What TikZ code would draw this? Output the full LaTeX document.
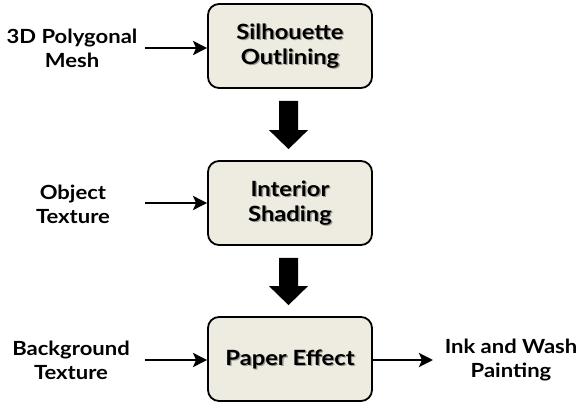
\documentclass[tikz,border=0pt]{standalone}
\usepackage{fontspec}
\setmainfont{Lato}[FakeStretch=1.13]
\usetikzlibrary{calc,arrows.meta}
\definecolor{boxfill}{HTML}{EEEBE1}
\tikzset{
  stage/.style={draw=black, line width=1.8pt, fill=boxfill, rounded corners=11pt,
    minimum width=164pt, minimum height=84pt, inner sep=0pt},
  stagetext/.style={font=\bfseries\fontsize{21}{24.5}\selectfont, align=center, inner sep=0pt},
  shadowtext/.style={stagetext, text=black, opacity=0.35},
  sidelabel/.style={font=\bfseries\fontsize{19.5}{24}\selectfont, align=center, inner sep=0pt},
  flow/.style={line width=2.6pt, -{Stealth[length=14pt,width=14pt,inset=3pt]}},
  blockarrow/.style={fill=black, draw=none}
}
\newcommand{\stagelabel}[3]{%
  \node[shadowtext] at ($(#1)+(1.3,1.3)$) {#2};
  \node[stagetext] (#3) at (#1) {#2};}
\begin{document}
\begin{tikzpicture}[x=1pt,y=-1pt]
\useasboundingbox (0,0) rectangle (578,406);
% boxes
\node[stage] (b1) at (290,46) {};
\node[stage] (b2) at (290,203) {};
\node[stage] (b3) at (290,359) {};
\stagelabel{b1}{Silhouette\\Outlining}{t1}
\stagelabel{b2}{Interior\\Shading}{t2}
\stagelabel{b3}{Paper Effect}{t3}
% side labels
\node[sidelabel] (l1) at (72,48) {3D Polygonal\\Mesh};
\node[sidelabel] (l2) at (73,204) {Object\\Texture};
\node[sidelabel] (l3) at (71,360) {Background\\Texture};
\node[sidelabel] (l4) at (511,360) {Ink and Wash\\Painting};
% side arrows
\coordinate (s1) at (145,48);
\coordinate (s2) at (145,203);
\coordinate (s3) at (145,360);
\draw[flow] (s1) -- (s1 -| b1.west);
\draw[flow] (s2) -- (s2 -| b2.west);
\draw[flow] (s3) -- (s3 -| b3.west);
\coordinate (e3) at (433,360);
\draw[flow] (b3.east |- e3) -- (e3);
% block arrows
\foreach \a/\b in {b1/b2, b2/b3}{
  \coordinate (ta) at ($(\a.south)+(-1.5,12)$);
  \coordinate (tb) at ($(\b.north)+(-1.5,-11)$);
  \fill[blockarrow] ($(ta)+(-9.5,0)$) -- ($(ta)+(9.5,0)$) -- ($(tb)+(9.5,-19)$)
     -- ($(tb)+(19.5,-19)$) -- (tb) -- ($(tb)+(-19.5,-19)$) -- ($(tb)+(-9.5,-19)$) -- cycle;
}
\end{tikzpicture}
\end{document}
